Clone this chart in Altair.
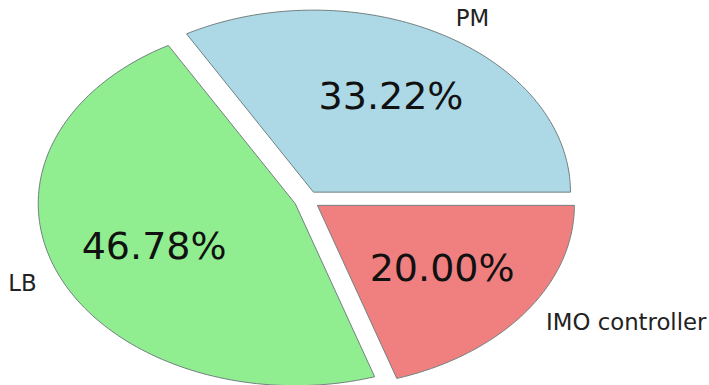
import altair as alt
import pandas as pd

# Slice data
labels = ["PM", "LB", "IMO controller"]
shares = [33.22, 46.78, 20.00]
colors = ["#add8e6", "#90ee90", "#f08080"]
explode = [0.05, 0.05, 0.05]

STEPS = 120  # points along each wedge's outer arc

slices = pd.DataFrame({
    "label": labels,
    "share": shares,
    "explode": explode,
    "slot": list(range(len(labels))),
})
# vertex index per wedge: 0 = centre, 1..STEPS+1 = arc, STEPS+2 = centre again
slices["k"] = [list(range(STEPS + 3)) for _ in labels]

PI2 = "2 * PI"


def wedge_geometry(chart):
    """Angles (counter-clockwise from 3 o'clock) and explode offsets of each wedge."""
    return (
        chart.transform_joinaggregate(total="sum(share)")
        .transform_window(cum="sum(share)", sort=[alt.SortField("slot")], frame=[None, 0])
        .transform_calculate(
            a1=f"{PI2} * (datum.cum - datum.share) / datum.total",
            a2=f"{PI2} * datum.cum / datum.total",
        )
        .transform_calculate(mid="(datum.a1 + datum.a2) / 2")
        .transform_calculate(
            ox="datum.explode * cos(datum.mid)",
            oy="datum.explode * sin(datum.mid)",
        )
    )


xscale = alt.Scale(domain=[-307 / 257, 402 / 257], zero=False, nice=False)
yscale = alt.Scale(domain=[-185 / 182, 200 / 182], zero=False, nice=False)

base = alt.Chart(slices)

wedges = (
    wedge_geometry(base)
    .transform_flatten(["k"])
    .transform_calculate(
        onarc=f"datum.k > 0 && datum.k < {STEPS + 2}",
        t=f"datum.a1 + (datum.k - 1) / {STEPS} * (datum.a2 - datum.a1)",
    )
    .transform_calculate(
        px="datum.ox + (datum.onarc ? cos(datum.t) : 0)",
        py="datum.oy + (datum.onarc ? sin(datum.t) : 0)",
    )
    .mark_line(stroke="#728080", strokeWidth=1, strokeJoin="round")
    .encode(
        x=alt.X("px:Q", scale=xscale, axis=None),
        y=alt.Y("py:Q", scale=yscale, axis=None),
        order=alt.Order("k:Q"),
        detail="label:N",
        fill=alt.Fill("label:N", scale=alt.Scale(domain=labels, range=colors), legend=None),
    )
)

pct_text = (
    wedge_geometry(base)
    .transform_calculate(
        tx="datum.ox + 0.6 * cos(datum.mid)",
        ty="datum.oy + 0.6 * sin(datum.mid)",
        pct="format(100 * datum.share / datum.total, '.2f') + '%'",
    )
    .mark_text(font="DejaVu Sans", fontSize=38, color="#111111", align="center", baseline="middle")
    .encode(
        x=alt.X("tx:Q", scale=xscale, axis=None),
        y=alt.Y("ty:Q", scale=yscale, axis=None),
        text="pct:N",
    )
)


def name_layer(side):
    cond = "datum.lx > 0" if side == "left" else "datum.lx <= 0"
    return (
        wedge_geometry(base)
        .transform_calculate(
            lx="datum.ox + 1.1 * cos(datum.mid)",
            ly="datum.oy + 1.1 * sin(datum.mid)",
        )
        .transform_filter(cond)
        .mark_text(font="DejaVu Sans", fontSize=22.8, color="#222222", align=side, baseline="middle")
        .encode(
            x=alt.X("lx:Q", scale=xscale, axis=None),
            y=alt.Y("ly:Q", scale=yscale, axis=None),
            text="label:N",
        )
    )


chart = (
    alt.layer(wedges, pct_text, name_layer("left"), name_layer("right"))
    .properties(width=709, height=385, padding=0, background="white")
    .configure_view(stroke=None)
)

chart.save("out.html", embed_options={"renderer": "svg", "actions": False})
